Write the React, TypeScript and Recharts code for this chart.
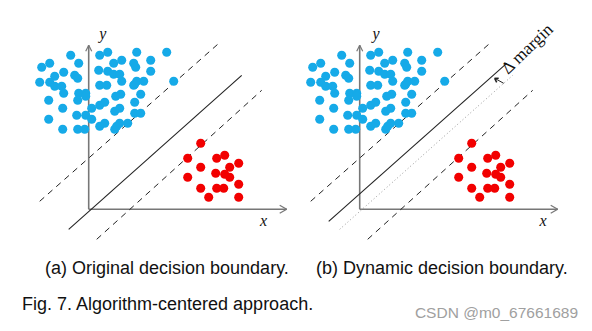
import React from 'react';
import { ScatterChart, Scatter, XAxis, YAxis, ZAxis, ReferenceLine } from 'recharts';

// points (1 unit = 1 px, origin at the axes corner)
const BLUE_POINTS = [
  { x: -18, y: 154 }, { x: 11, y: 154 }, { x: 19, y: 157 }, { x: 48, y: 157 }, { x: 78, y: 157 },
  { x: -47, y: 142 }, { x: -39, y: 146 }, { x: -10, y: 146 }, { x: 25, y: 146 }, { x: 33, y: 149 },
  { x: 45, y: 146 }, { x: 47, y: 142 }, { x: 62, y: 149 },
  { x: -34, y: 133 }, { x: -25, y: 137 }, { x: -14, y: 134 }, { x: -11, y: 131 }, { x: 10, y: 139 },
  { x: 19, y: 138 }, { x: 25, y: 135 }, { x: 31, y: 135 }, { x: 62, y: 138 },
  { x: -49, y: 127 }, { x: -39, y: 127 }, { x: -34, y: 123 }, { x: -27, y: 123 }, { x: 11, y: 124 },
  { x: 18, y: 124 }, { x: 33, y: 128 }, { x: 45, y: 124 }, { x: 48, y: 128 }, { x: 46, y: 125 },
  { x: 55, y: 128 }, { x: 85, y: 128 },
  { x: -25, y: 116 }, { x: -10, y: 116 }, { x: -3, y: 116 }, { x: -3, y: 113 }, { x: 32, y: 115 },
  { x: 27, y: 113 }, { x: 52, y: 115 },
  { x: -40, y: 109 }, { x: -11, y: 109 }, { x: 11, y: 104 }, { x: 16, y: 107 }, { x: 46, y: 107 },
  { x: -26, y: 101 }, { x: 3, y: 101 }, { x: 26, y: 98 }, { x: 31, y: 101 },
  { x: -40, y: 90 }, { x: -12, y: 94 }, { x: -3, y: 94 }, { x: 3, y: 90 }, { x: 46, y: 96 }, { x: 52, y: 96 },
  { x: -26, y: 80 }, { x: -11, y: 80 }, { x: -4, y: 80 }, { x: 11, y: 83 }, { x: 16, y: 86 },
  { x: 26, y: 80 }, { x: 28, y: 83 }, { x: 31, y: 86 }, { x: 39, y: 86 },
];

const RED_POINTS = [
  { x: 112, y: 66 }, { x: 99, y: 51 }, { x: 128, y: 51 }, { x: 136, y: 54 }, { x: 112, y: 42 },
  { x: 141, y: 42 }, { x: 150, y: 46 }, { x: 127, y: 36 }, { x: 136, y: 35 }, { x: 141, y: 32 },
  { x: 99, y: 32 }, { x: 150, y: 25 }, { x: 112, y: 21 }, { x: 128, y: 21 }, { x: 135, y: 21 },
  { x: 120, y: 12 }, { x: 150, y: 12 },
];

const BOUNDARY = [{ x: -20, y: -20 }, { x: 153, y: 134 }];
const UPPER_MARGIN = [{ x: -49, y: 8 }, { x: 129, y: 165 }];
const LOWER_MARGIN = [{ x: 8, y: -30 }, { x: 173, y: 119 }];
const SHIFTED_BOUNDARY = [{ x: -31, y: -12 }, { x: 147, y: 146 }];
const MARGIN_ARROW = [{ x: 144, y: 126 }, { x: 135, y: 131 }];

const X_AXIS_END = 198;
const Y_AXIS_END = 164;

const W = 272;
const H = 225;
const OX = 68.7;
const OY = 189.3;
const X_DOMAIN = [-OX, W - OX];
const Y_DOMAIN = [OY - H, OY];

const AXIS_COLOR = '#777';

const Panel = ({ left, dynamic }: { left: number; dynamic: boolean }) => (
  <div style={{ position: 'absolute', left, top: 20 }}>
    <ScatterChart width={W} height={H} margin={{ top: 0, right: 0, bottom: 0, left: 0 }}>
      <XAxis type="number" dataKey="x" domain={X_DOMAIN} hide allowDataOverflow />
      <YAxis type="number" dataKey="y" domain={Y_DOMAIN} hide allowDataOverflow />
      <ZAxis range={[34, 34]} />
      {/* axes with open arrow heads */}
      <ReferenceLine segment={[{ x: 0, y: 0 }, { x: X_AXIS_END, y: 0 }]} stroke={AXIS_COLOR} strokeWidth={1.6} ifOverflow="visible" />
      <ReferenceLine segment={[{ x: X_AXIS_END - 7, y: 4 }, { x: X_AXIS_END, y: 0 }]} stroke={AXIS_COLOR} strokeWidth={1.2} ifOverflow="visible" />
      <ReferenceLine segment={[{ x: X_AXIS_END - 7, y: -4 }, { x: X_AXIS_END, y: 0 }]} stroke={AXIS_COLOR} strokeWidth={1.2} ifOverflow="visible" />
      <ReferenceLine segment={[{ x: 0, y: 0 }, { x: 0, y: Y_AXIS_END }]} stroke={AXIS_COLOR} strokeWidth={1.6} ifOverflow="visible" />
      <ReferenceLine segment={[{ x: -3, y: Y_AXIS_END - 6 }, { x: 0, y: Y_AXIS_END }]} stroke={AXIS_COLOR} strokeWidth={1.2} ifOverflow="visible" />
      <ReferenceLine segment={[{ x: 3, y: Y_AXIS_END - 6 }, { x: 0, y: Y_AXIS_END }]} stroke={AXIS_COLOR} strokeWidth={1.2} ifOverflow="visible" />

      <ReferenceLine segment={UPPER_MARGIN} stroke="#222" strokeDasharray="6 5" ifOverflow="visible" />
      <ReferenceLine segment={LOWER_MARGIN} stroke="#222" strokeDasharray="6 5" ifOverflow="visible" />
      {dynamic ? (
        <>
          <ReferenceLine segment={BOUNDARY} stroke="#999" strokeDasharray="1 2.5" ifOverflow="visible" />
          <ReferenceLine segment={SHIFTED_BOUNDARY} stroke="#222" strokeWidth={1.1} ifOverflow="visible" />
          <ReferenceLine segment={MARGIN_ARROW} stroke="#222" ifOverflow="visible" />
          <ReferenceLine segment={[MARGIN_ARROW[1], { x: 139, y: 131 }]} stroke="#222" strokeWidth={1.5} ifOverflow="visible" />
          <ReferenceLine segment={[MARGIN_ARROW[1], { x: 137, y: 127 }]} stroke="#222" strokeWidth={1.5} ifOverflow="visible" />
        </>
      ) : (
        <ReferenceLine segment={BOUNDARY} stroke="#222" strokeWidth={1.1} ifOverflow="visible" />
      )}

      <Scatter data={BLUE_POINTS} fill="#16aae8" isAnimationActive={false} />
      <Scatter data={RED_POINTS} fill="#f20000" isAnimationActive={false} />
    </ScatterChart>
  </div>
);

const captionStyle: React.CSSProperties = {
  position: 'absolute',
  fontFamily: '"Liberation Sans", Arial, sans-serif',
  fontSize: 18,
  color: '#111',
  whiteSpace: 'nowrap',
  lineHeight: '20px',
};

export default function App() {
  return (
    <div style={{ position: 'absolute', left: 0, top: 0, width: 592, height: 331, background: '#fff', overflow: 'hidden' }}>
      <Panel left={20} dynamic={false} />
      <Panel left={290.6} dynamic />

      <svg width={592} height={331} style={{ position: 'absolute', left: 0, top: 0, pointerEvents: 'none' }}>
        <g fontFamily='"Liberation Serif", "DejaVu Serif", serif' fontStyle="italic" fontSize={16} fill="#111" textAnchor="middle">
          <text x={102.7} y={39}>y</text>
          <text x={263.5} y={226}>x</text>
          <text x={376} y={39}>y</text>
          <text x={543} y={226}>x</text>
        </g>
        <text
          x={508}
          y={75}
          transform="rotate(-44 508 75)"
          fontFamily='"Liberation Serif", "DejaVu Serif", serif'
          fontSize={17.5}
          fill="#111"
        >
          Δ margin
        </text>
      </svg>

      <div style={{ ...captionStyle, left: 45, top: 258 }}>(a) Original decision boundary.</div>
      <div style={{ ...captionStyle, left: 316, top: 258 }}>(b) Dynamic decision boundary.</div>
      <div style={{ ...captionStyle, left: 22, top: 294 }}>Fig. 7. Algorithm-centered approach.</div>
      <div
        style={{
          ...captionStyle,
          fontSize: 15.5,
          color: '#a0a0a0',
          right: 14,
          top: 303,
        }}
      >
        CSDN @m0_67661689
      </div>
    </div>
  );
}
